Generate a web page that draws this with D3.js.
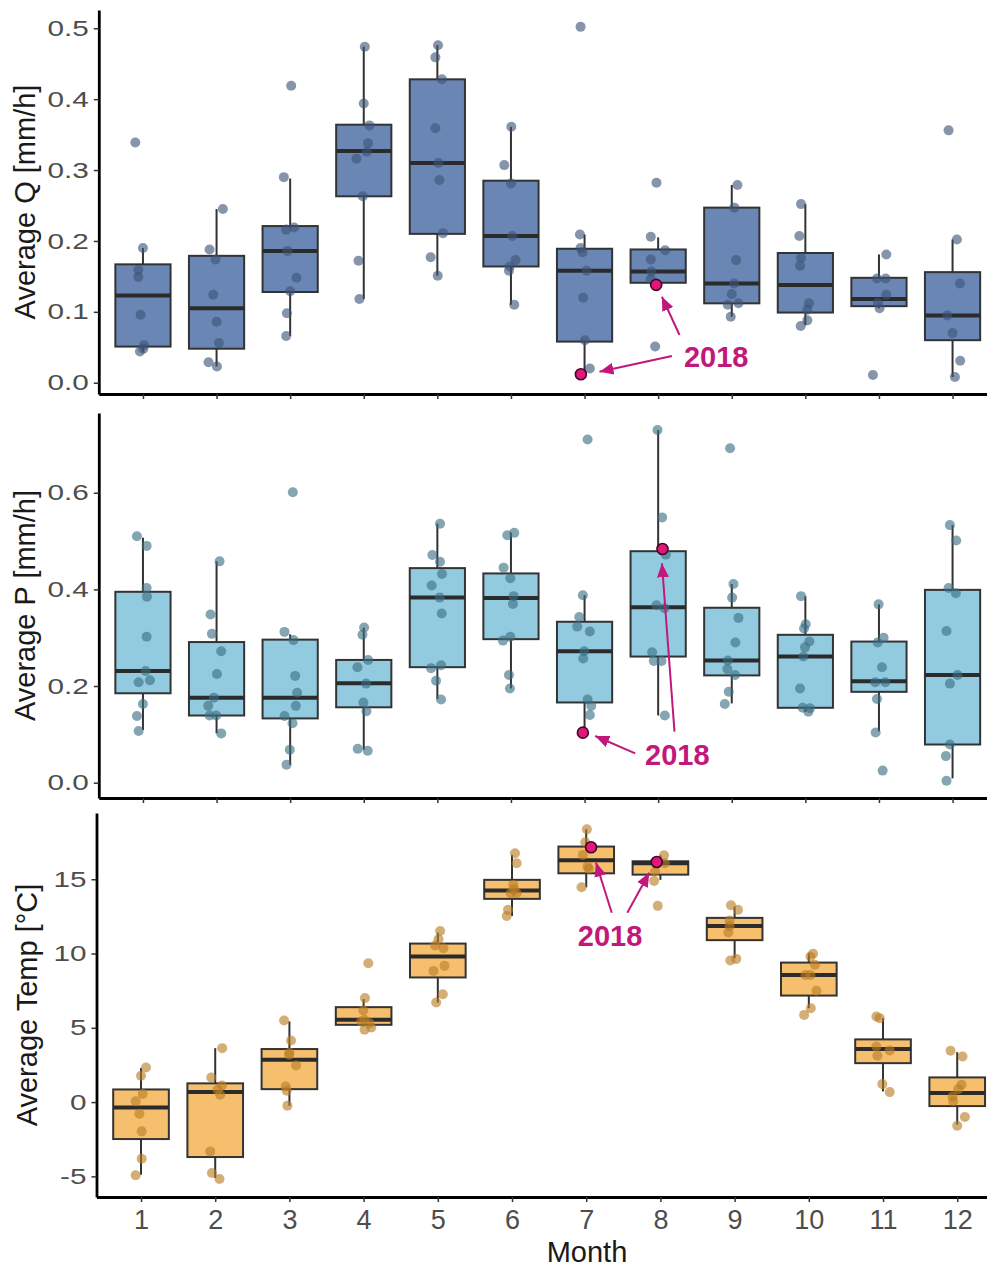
<!DOCTYPE html>
<html>
<head>
<meta charset="utf-8">
<script src="https://cdn.jsdelivr.net/npm/d3@7"></script>
<style>
  body { margin: 0; background: #fff; }
  svg { display: block; font-family: "Liberation Sans", Arial, sans-serif; }
</style>
</head>
<body>
<div id="chart"></div>
<script>
const months = [1, 2, 3, 4, 5, 6, 7, 8, 9, 10, 11, 12]

// box stats per month: [lower whisker, Q1, median, Q3, upper whisker]
const qBox = [
    [0.044, 0.051, 0.123, 0.167, 0.190],
    [0.023, 0.048, 0.105, 0.179, 0.245],
    [0.066, 0.128, 0.186, 0.221, 0.288],
    [0.118, 0.263, 0.327, 0.364, 0.474],
    [0.151, 0.210, 0.310, 0.428, 0.476],
    [0.110, 0.164, 0.207, 0.285, 0.361],
    [0.012, 0.058, 0.158, 0.189, 0.209],
    [0.138, 0.141, 0.157, 0.188, 0.205],
    [0.093, 0.112, 0.140, 0.247, 0.279],
    [0.081, 0.099, 0.138, 0.183, 0.252],
    [0.105, 0.108, 0.118, 0.148, 0.181],
    [0.008, 0.060, 0.095, 0.156, 0.202]
]
// jittered yearly values: [month, value]
const qPoints = [
    [0.896, .339], [1.0, .19], [0.937, .159], [0.937, .149], [0.968, .096], [1.014, .053], [1.005, .048], [0.959, .044],
    [2.086, .245], [1.905, .188], [1.986, .174], [1.955, .124], [2.0, .086], [2.032, .056], [1.891, .029], [2.005, .023],
    [3.014, .419], [2.914, .29], [2.946, .216], [3.054, .219], [2.964, .186], [3.086, .148], [3.0, .129], [2.955, .098], [2.946, .066],
    [4.014, .474], [4.0, .394], [4.077, .363], [4.059, .338], [4.041, .326], [3.9, .316], [3.986, .263], [3.928, .172], [3.941, .118],
    [5.009, .476], [4.973, .459], [5.063, .428], [4.973, .359], [5.014, .31], [5.027, .286], [5.077, .211], [4.909, .177], [5.005, .151],
    [6.005, .361], [5.909, .307], [6.0, .281], [6.018, .207], [6.063, .173], [5.982, .164], [5.973, .158], [6.045, .11],
    [6.946, .502], [6.937, .209], [6.946, .19], [6.973, .184], [7.027, .158], [6.982, .12], [7.005, .06], [7.072, .02],
    [7.977, .282], [7.9, .206], [8.095, .187], [7.9, .174], [7.909, .157], [7.9, .146], [7.959, .051],
    [9.077, .279], [9.036, .247], [9.059, .173], [9.032, .14], [9.0, .125], [8.946, .11], [9.091, .112], [8.986, .093],
    [9.941, .252], [9.918, .207], [9.941, .176], [9.928, .165], [10.05, .112], [10.027, .103], [10.027, .088], [9.937, .08],
    [11.1, .181], [10.973, .147], [11.091, .147], [11.1, .124], [10.986, .113], [11.009, .105], [10.918, .011],
    [11.946, .356], [12.059, .202], [12.1, .14], [11.928, .095], [12.0, .07], [12.104, .031], [12.032, .008]
]
const q2018 = [[6.95, 0.012], [7.973, 0.138]]

const pBox = [
    [0.109, 0.185, 0.231, 0.395, 0.507],
    [0.102, 0.139, 0.176, 0.291, 0.458],
    [0.037, 0.133, 0.176, 0.296, 0.307],
    [0.068, 0.156, 0.206, 0.254, 0.321],
    [0.173, 0.239, 0.383, 0.444, 0.536],
    [0.195, 0.297, 0.382, 0.433, 0.517],
    [0.102, 0.166, 0.272, 0.333, 0.388],
    [0.139, 0.261, 0.363, 0.479, 0.730],
    [0.164, 0.222, 0.253, 0.362, 0.411],
    [0.147, 0.155, 0.261, 0.306, 0.386],
    [0.106, 0.188, 0.210, 0.292, 0.369],
    [0.009, 0.079, 0.223, 0.399, 0.533]
]
const pPoints = [
    [.918, .51], [1.05, .49], [1.05, .403], [1.054, .385], [1.05, .302], [1.036, .231], [.941, .208], [1.095, .212], [1.0, .163], [.918, .138], [.941, .107],
    [2.041, .458], [1.918, .348], [1.937, .308], [2.063, .272], [2.005, .225], [1.964, .176], [1.887, .159], [1.905, .139], [1.995, .139], [2.063, .102],
    [3.036, .601], [2.923, .312], [3.045, .295], [3.068, .221], [3.095, .186], [3.077, .159], [2.923, .138], [3.032, .123], [2.995, .068], [2.95, .037],
    [4.005, .321], [3.982, .306], [4.059, .254], [3.914, .239], [4.032, .205], [3.995, .166], [4.036, .148], [3.918, .07], [4.054, .066],
    [5.036, .536], [4.932, .471], [5.036, .457], [5.063, .432], [4.923, .408], [5.032, .383], [5.059, .35], [4.914, .237], [5.05, .243], [4.982, .211], [5.05, .172],
    [5.95, .512], [6.045, .517], [5.9, .445], [5.991, .423], [6.036, .386], [6.027, .37], [5.991, .302], [5.891, .294], [5.973, .223], [5.986, .195],
    [7.041, .71], [6.977, .388], [6.928, .343], [6.9, .323], [7.072, .313], [6.995, .272], [6.982, .257], [7.041, .172], [7.091, .159], [7.072, .14],
    [7.991, .73], [8.054, .549], [8.104, .472], [7.977, .367], [8.086, .361], [7.918, .27], [7.941, .252], [8.045, .252], [8.091, .139],
    [8.977, .692], [9.023, .411], [9.005, .383], [9.091, .341], [9.05, .29], [8.946, .253], [8.941, .235], [9.045, .223], [8.959, .188], [8.905, .163],
    [9.941, .386], [10.005, .328], [9.982, .319], [10.054, .292], [9.995, .28], [9.973, .261], [9.928, .195], [9.964, .155], [10.063, .154], [10.041, .147],
    [10.995, .369], [11.063, .3], [10.982, .29], [11.041, .239], [10.95, .208], [11.086, .208], [10.973, .173], [10.955, .104], [11.05, .025],
    [11.964, .533], [12.05, .501], [11.946, .403], [12.045, .392], [11.918, .314], [12.068, .223], [11.964, .205], [11.964, .079], [11.909, .055], [11.918, .004]
]
const p2018 = [[6.977, 0.1035], [8.059, 0.4835]]

const tBox = [
    [-4.89, -2.49, -0.36, 0.85, 2.29],
    [-5.11, -3.70, 0.67, 1.26, 3.63],
    [-0.25, 0.87, 2.85, 3.57, 5.43],
    [5.09, 5.20, 5.54, 6.39, 6.93],
    [6.70, 8.39, 9.80, 10.67, 11.41],
    [12.53, 13.68, 14.24, 14.96, 16.64],
    [14.46, 15.40, 16.28, 17.20, 18.36],
    [14.96, 15.31, 16.08, 16.21, 16.61],
    [9.69, 10.90, 11.86, 12.40, 13.16],
    [6.32, 7.17, 8.56, 9.39, 10.02],
    [0.72, 2.62, 3.57, 4.22, 5.65],
    [-1.52, -0.27, 0.61, 1.66, 3.36]
]
const tPoints = [
    [1.067, 2.33], [1.0, 1.77], [1.022, .54], [.928, .05], [.978, -.79], [1.009, -1.97], [1.009, -3.81], [.928, -4.93],
    [2.094, 3.63], [1.946, 1.66], [2.09, 1.12], [2.031, .83], [2.067, .49], [1.933, -3.32], [1.955, -4.78], [2.058, -5.18],
    [2.928, 5.49], [3.022, 4.15], [3.0, 3.3], [2.996, 3.18], [3.09, 2.47], [2.951, 1.05], [2.964, .76], [2.973, -.25],
    [4.063, 9.35], [4.018, 7.0], [3.996, 6.17], [4.013, 5.54], [3.969, 5.43], [4.081, 5.31], [4.103, 5.02], [4.013, 4.87],
    [5.031, 11.52], [5.009, 10.96], [4.964, 10.54], [5.076, 10.36], [5.09, 9.17], [4.942, 8.83], [5.067, 7.26], [4.978, 6.7],
    [6.04, 16.75], [6.063, 16.08], [6.018, 14.62], [6.027, 14.33], [5.982, 14.06], [6.063, 14.06], [5.946, 12.94], [5.928, 12.53],
    [7.009, 18.36], [6.987, 17.49], [6.955, 16.64], [7.018, 15.85], [7.036, 15.7], [6.937, 14.46],
    [8.049, 16.61], [8.058, 16.08], [7.928, 15.52], [7.915, 14.89], [7.964, 13.21],
    [8.951, 13.25], [9.045, 12.94], [8.933, 12.22], [8.933, 11.86], [8.915, 11.41], [8.942, 9.53], [9.022, 9.64],
    [10.058, 9.98], [10.022, 9.8], [10.081, 9.24], [9.955, 8.56], [10.022, 8.56], [10.103, 7.49], [10.027, 6.32], [9.937, 5.87],
    [10.91, 5.76], [10.955, 5.65], [10.91, 3.74], [11.09, 3.48], [10.924, 3.12], [10.991, 1.21], [11.09, .67],
    [11.91, 3.45], [12.072, 3.07], [12.058, 1.17], [12.013, .87], [11.937, .38], [11.946, .05], [12.103, -1.01], [12.0, -1.59]
]
const t2018 = [[7.065, 17.15], [7.95, 16.16]]

const qTicks = [0, 0.1, 0.2, 0.3, 0.4, 0.5]
const pTicks = [0, 0.2, 0.4, 0.6]
const tTicks = [-5, 0, 5, 10, 15]

// "2018" call-outs: label anchor and arrows [x1, y1, x2, y2] in data units
const qNote = {label: [8.789, 0.0226], arrows: [[8.187, 0.0377, 7.203, 0.0155], [8.29, 0.0673, 8.051, 0.1213]]}
const pNote = {label: [8.261, 0.0366], arrows: [[7.688, 0.0608, 7.145, 0.0966], [8.222, 0.1055, 8.051, 0.454]]}
const tNote = {label: [7.321, 10.51], arrows: [[7.344, 12.75, 7.132, 16.12], [7.554, 12.75, 7.85, 15.44]]}

const width = 987, height = 1269
const hiColor = '#C2187B'

const panels = [
    {title: 'Average Q [mm/h]', box: qBox, pts: qPoints, hi: q2018, ticks: qTicks, fmt: d => d.toFixed(1),
        domain: [-0.0159, 0.5258], top: 10, bottom: 394, x0: 98.8, step: 73.6, titleX: 35,
        fill: '#6A86B4', dot: '#3E5477', note: qNote, xLabels: false},
    {title: 'Average P [mm/h]', box: pBox, pts: pPoints, hi: p2018, ticks: pTicks, fmt: d => d.toFixed(1),
        domain: [-0.0317, 0.765], top: 413, bottom: 798, x0: 98.8, step: 73.6, titleX: 35,
        fill: '#92CBE0', dot: '#3C6E82', note: pNote, xLabels: false},
    {title: 'Average Temp [°C]', box: tBox, pts: tPoints, hi: t2018, ticks: tTicks, fmt: d => String(d),
        domain: [-6.39, 19.46], top: 813, bottom: 1197, x0: 96.5, step: 74.2, titleX: 37,
        fill: '#F5BF6E', dot: '#B97D23', note: tNote, xLabels: true},
]

const svg = d3.select('#chart').append('svg')
    .attr('width', width)
    .attr('height', height)

svg.append('rect').attr('width', width).attr('height', height).attr('fill', '#fff')

svg.append('defs').append('marker')
    .attr('id', 'arrowhead')
    .attr('viewBox', '0 0 14 12')
    .attr('refX', 14)
    .attr('refY', 6)
    .attr('markerWidth', 14)
    .attr('markerHeight', 12)
    .attr('markerUnits', 'userSpaceOnUse')
    .attr('orient', 'auto')
    .append('path')
    .attr('d', 'M0,0 L14,6 L0,12 Z')
    .attr('fill', hiColor)

const yScale = 1.35 // tick labels on the y axis are drawn wider than tall

panels.forEach(p => {
    const x = d3.scaleLinear()
        .domain([0.4, 12.6])
        .range([p.x0, p.x0 + 12.2 * p.step])
    const y = d3.scaleLinear()
        .domain(p.domain)
        .range([p.bottom, p.top])
    const bw = 0.75 * p.step

    const g = svg.append('g')

    // whiskers
    g.selectAll('.whisker')
        .data(p.box)
        .join('line')
        .attr('x1', (d, i) => x(months[i]))
        .attr('x2', (d, i) => x(months[i]))
        .attr('y1', d => y(d[0]))
        .attr('y2', d => y(d[4]))
        .attr('stroke', '#333')
        .attr('stroke-width', 2)

    // boxes
    g.selectAll('.box')
        .data(p.box)
        .join('rect')
        .attr('x', (d, i) => x(months[i]) - bw / 2)
        .attr('width', bw)
        .attr('y', d => y(d[3]))
        .attr('height', d => y(d[1]) - y(d[3]))
        .attr('fill', p.fill)
        .attr('stroke', '#333')
        .attr('stroke-width', 2)

    // medians
    g.selectAll('.median')
        .data(p.box)
        .join('line')
        .attr('x1', (d, i) => x(months[i]) - bw / 2)
        .attr('x2', (d, i) => x(months[i]) + bw / 2)
        .attr('y1', d => y(d[2]))
        .attr('y2', d => y(d[2]))
        .attr('stroke', '#2b2b2b')
        .attr('stroke-width', 4)

    // yearly values
    g.selectAll('.pt')
        .data(p.pts)
        .join('circle')
        .attr('cx', d => x(d[0]))
        .attr('cy', d => y(d[1]))
        .attr('r', 5)
        .attr('fill', p.dot)
        .attr('fill-opacity', 0.62)

    // 2018
    g.selectAll('.hi')
        .data(p.hi)
        .join('circle')
        .attr('cx', d => x(d[0]))
        .attr('cy', d => y(d[1]))
        .attr('r', 5.5)
        .attr('fill', '#E3167C')
        .attr('stroke', '#3d0a22')
        .attr('stroke-width', 1.6)

    g.selectAll('.arrow')
        .data(p.note.arrows)
        .join('line')
        .attr('x1', d => x(d[0]))
        .attr('y1', d => y(d[1]))
        .attr('x2', d => x(d[2]))
        .attr('y2', d => y(d[3]))
        .attr('stroke', hiColor)
        .attr('stroke-width', 2)
        .attr('marker-end', 'url(#arrowhead)')

    g.append('text')
        .attr('x', x(p.note.label[0]))
        .attr('y', y(p.note.label[1]))
        .attr('text-anchor', 'middle')
        .attr('font-size', 29)
        .attr('font-weight', 'bold')
        .attr('fill', hiColor)
        .text('2018')

    // axes
    const yAxis = svg.append('g')
        .attr('transform', `translate(${p.x0},0)`)
        .call(d3.axisLeft(y).tickValues(p.ticks).tickFormat(p.fmt).tickSize(5).tickPadding(5).tickSizeOuter(0))
    yAxis.select('.domain').attr('stroke', '#000').attr('stroke-width', 2.8)
    yAxis.selectAll('.tick line').attr('stroke', '#333').attr('stroke-width', 1.5)
    yAxis.selectAll('.tick text')
        .attr('font-family', '"Liberation Sans", Arial, sans-serif')
        .attr('font-size', 22)
        .attr('fill', '#4d4d4d')
        .attr('x', -10 / yScale)
        .attr('transform', `scale(${yScale},1)`)

    const xAxis = svg.append('g')
        .attr('transform', `translate(0,${p.bottom})`)
        .call(d3.axisBottom(x).tickValues(months).tickSize(5).tickPadding(8).tickSizeOuter(0)
            .tickFormat(p.xLabels ? d => String(d) : () => ''))
    xAxis.select('.domain').attr('stroke', '#000').attr('stroke-width', 2.8)
    xAxis.selectAll('.tick line').attr('stroke', '#333').attr('stroke-width', 1.5)
    xAxis.selectAll('.tick text')
        .attr('font-family', '"Liberation Sans", Arial, sans-serif')
        .attr('font-size', 27)
        .attr('fill', '#4d4d4d')

    svg.append('text')
        .attr('transform', `translate(${p.titleX},${(p.top + p.bottom) / 2}) rotate(-90)`)
        .attr('text-anchor', 'middle')
        .attr('font-size', 29)
        .attr('fill', '#1a1a1a')
        .text(p.title)
})

svg.append('text')
    .attr('x', 587)
    .attr('y', 1262)
    .attr('text-anchor', 'middle')
    .attr('font-size', 29)
    .attr('fill', '#1a1a1a')
    .text('Month')
</script>
</body>
</html>
